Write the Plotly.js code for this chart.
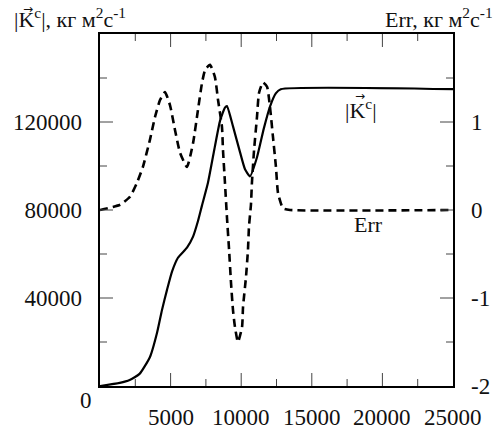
<!DOCTYPE html>
<html>
<head>
<meta charset="utf-8">
<script src="https://cdn.plot.ly/plotly-3.0.1.min.js"></script>
<style>html,body{margin:0;padding:0;background:#fff;}#chart{width:496px;height:432px;}</style>
</head>
<body>
<div id="chart"></div>
<script>
// |K^c| (left axis)
const kX = [0,1400,2100,2800,3540,4040,4390,4750,5100,5520,6160,6590,6940,7220,7650,8140,8500,8850,8990,9420,9920,10270,10620,11120,11600,12040,12450,12800,25000];
const kY = [0,1400,2700,5500,13200,24200,34600,43800,52000,58300,62900,67900,75000,82000,92500,109000,120500,126500,127200,118000,106200,98500,95300,104000,117000,127000,133000,134900,134900];
// Err (right axis)
const eX = [0,1420,2120,2620,3040,3540,3900,4250,4600,4960,5310,5670,6160,6590,6940,7220,7440,7790,8140,8360,8640,8710,8850,8990,9140,9280,9420,9560,9770,10060,10130,10340,10480,10550,10690,10760,10910,11120,11260,11540,11830,12040,12250,12460,12610,12960,13460,25000];
const eY = [0,0.06,0.15,0.31,0.49,0.80,1.06,1.25,1.34,1.19,0.91,0.65,0.49,0.76,1.14,1.44,1.59,1.65,1.51,1.25,0.94,0.68,0.31,-0.08,-0.45,-0.83,-1.14,-1.33,-1.5,-1.33,-1.1,-0.76,-0.45,-0.19,0.06,0.31,0.68,1.06,1.33,1.45,1.40,1.17,0.83,0.49,0.19,0.02,0,0];

// tick labels / positions
const xTickVals = [5000,10000,15000,20000,25000];
const xTickText = ['5000','10000','15000','20000','25000'];
const xMinorVals = [2500,7500,12500,17500,22500];
const yTickVals = [40000,80000,120000];
const yTickText = ['40000','80000','120000'];
const yMinorVals = [20000,60000,100000,140000];
const y2TickVals = [-2,-1,0,1];
const y2TickText = ['-2','-1','0','1'];
const y2MinorVals = [-1.5,-0.5,0.5,1.5];

const leftTitle = '|K<sup>c</sup>|, кг м<sup>2</sup>с<sup>-1</sup>';
const rightTitle = 'Err, кг м<sup>2</sup>с<sup>-1</sup>';
const kLabel = '|K<sup>c</sup>|';
const eLabel = 'Err';
const arrowMark = '\u2192';

const F = 'Liberation Serif';
const fnt = {family: F, size: 22, color: '#111'};
const tickFnt = {family: F, size: 23, color: '#111'};
const arrowFnt = {family: 'DejaVu Sans', size: 12, color: '#111'};
const pad = '\u00a0\u00a0';

const traces = [
  {x: kX, y: kY, type: 'scatter', mode: 'lines', yaxis: 'y',
   line: {color: '#000', width: 2.2, shape: 'spline', smoothing: 0.5}},
  {x: eX, y: eY, type: 'scatter', mode: 'lines', yaxis: 'y2',
   line: {color: '#000', width: 2.6, dash: '8px,5px', shape: 'spline', smoothing: 0.5}}
];

// inside tick marks drawn as shapes (plot area 353 x 352 px)
const MAJ = 13, MIN = 7, PW = 353, PH = 352;
const tickLine = {color: '#444', width: 1};
const shapes = [];
function xTicks(vals, len) {
  vals.forEach(function (v) {
    shapes.push({type: 'line', xref: 'x', yref: 'paper', x0: v, x1: v, y0: 0, y1: len / PH, line: tickLine, layer: 'above'});
    shapes.push({type: 'line', xref: 'x', yref: 'paper', x0: v, x1: v, y0: 1, y1: 1 - len / PH, line: tickLine, layer: 'above'});
  });
}
function yTicks(vals, len, yref, side) {
  vals.forEach(function (v) {
    shapes.push({type: 'line', xref: 'paper', yref: yref, x0: side, x1: side === 0 ? len / PW : 1 - len / PW, y0: v, y1: v, line: tickLine, layer: 'above'});
  });
}
xTicks(xTickVals.slice(0, -1), MAJ);
xTicks(xMinorVals, MIN);
yTicks(yTickVals, MAJ, 'y', 0);
yTicks(yMinorVals, MIN, 'y', 0);
yTicks(y2TickVals.slice(1), MAJ, 'y2', 1);
yTicks(y2MinorVals, MIN, 'y2', 1);

const axBase = {showline: true, linecolor: '#000', linewidth: 2, ticks: '',
  showgrid: false, zeroline: false, tickfont: tickFnt};

const annotations = [
  {text: leftTitle, xref: 'paper', yref: 'paper', x: -0.249, y: 1.0, xanchor: 'left', yanchor: 'bottom', showarrow: false, font: fnt},
  {text: arrowMark, xref: 'paper', yref: 'paper', x: -0.204, y: 1.071, xanchor: 'center', yanchor: 'middle', showarrow: false, font: arrowFnt},
  {text: rightTitle, xref: 'paper', yref: 'paper', x: 1.119, y: 1.0, xanchor: 'right', yanchor: 'bottom', showarrow: false, font: fnt},
  {text: kLabel, xref: 'x', yref: 'y', x: 18480, y: 125800, showarrow: false, font: fnt},
  {text: arrowMark, xref: 'x', yref: 'y', x: 18380, y: 132000, showarrow: false, font: arrowFnt},
  {text: eLabel, xref: 'x', yref: 'y2', x: 18980, y: -0.17, showarrow: false, font: fnt},
  {text: '0', xref: 'paper', yref: 'paper', x: -0.04, y: -0.04, xanchor: 'center', yanchor: 'middle', showarrow: false, font: tickFnt}
];
xTickVals.forEach(function (v, i) {
  annotations.push({text: xTickText[i], xref: 'x', yref: 'paper', x: v, y: -0.09,
    xanchor: 'center', yanchor: 'middle', showarrow: false, font: tickFnt});
});

const layout = {
  width: 496, height: 432,
  margin: {l: 100, r: 43, t: 34, b: 46},
  paper_bgcolor: '#fff', plot_bgcolor: '#fff',
  showlegend: false,
  font: fnt,
  xaxis: Object.assign({}, axBase, {range: [0, 25000], tickmode: 'array',
    tickvals: xTickVals, showticklabels: false, mirror: true}),
  yaxis: Object.assign({}, axBase, {range: [0, 160000], tickmode: 'array',
    tickvals: yTickVals, ticktext: yTickText.map(function (t) { return t + pad; })}),
  yaxis2: Object.assign({}, axBase, {range: [-2, 2], overlaying: 'y', side: 'right',
    tickmode: 'array', tickvals: y2TickVals, ticktext: y2TickText.map(function (t) { return pad + t; })}),
  shapes: shapes,
  annotations: annotations
};

Plotly.newPlot('chart', traces, layout, {staticPlot: true, displayModeBar: false});
</script>
</body>
</html>
